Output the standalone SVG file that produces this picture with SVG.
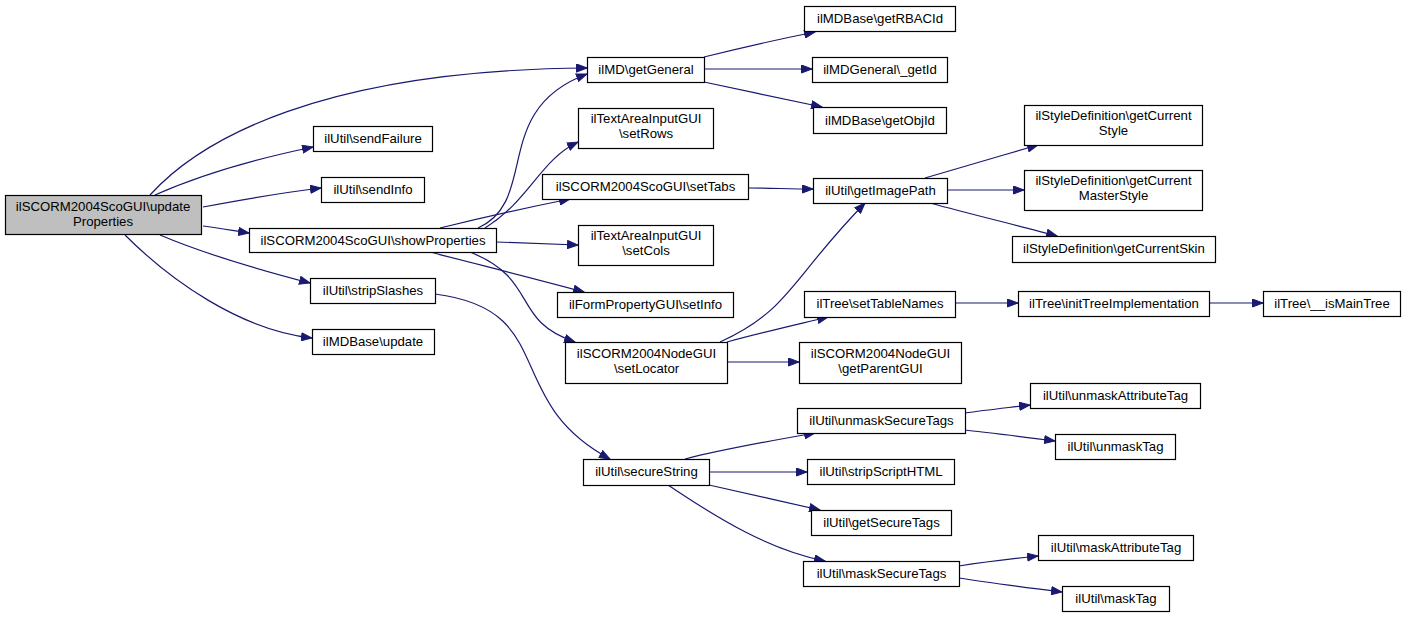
<svg xmlns="http://www.w3.org/2000/svg" width="1405" height="617" viewBox="0 0 1405 617">
<style>
.n rect{fill:#ffffff;stroke:#000000;stroke-width:1.2}
.n.root rect{fill:#bfbfbf}
.n text{font-family:"Liberation Sans",Arial,Helvetica,sans-serif;font-size:13.2px;fill:#000000;text-anchor:middle}
.e path{fill:none;stroke:#191970;stroke-width:1.2;marker-end:url(#ah)}
</style>
<defs>
<marker id="ah" markerUnits="userSpaceOnUse" markerWidth="12" markerHeight="9" refX="11" refY="4.5" orient="auto">
<path d="M0.5,0.5 L11,4.5 L0.5,8.5 z" fill="#191970" stroke="#191970" stroke-width="1"/>
</marker>
</defs>
<rect width="1405" height="617" fill="#ffffff"/>
<g id="edges" class="e">
<path d="M150,195 C200,140 320,70 587,68"/>
<path d="M155,195 C200,175 260,158 313,147"/>
<path d="M203,207 C240,200 280,193 321,188"/>
<path d="M203,226 C220,228 235,231 249,233"/>
<path d="M160,235 C200,252 260,270 310,283"/>
<path d="M125,235 C170,280 240,330 312,338"/>
<path d="M478,228 C540,200 490,110 587,74"/>
<path d="M485,228 C530,200 540,160 578,142"/>
<path d="M440,228 C480,218 530,207 570,199"/>
<path d="M496,242 C530,243 555,244 578,245"/>
<path d="M430,252 C480,265 540,280 584,292"/>
<path d="M470,252 C540,280 510,320 575,342"/>
<path d="M704,57 C740,48 780,39 815,32"/>
<path d="M704,69 C740,69 780,69 812,69"/>
<path d="M704,82 C740,90 790,100 822,107"/>
<path d="M748,188 C770,188 790,189 813,189"/>
<path d="M720,342 C790,310 790,280 865,203"/>
<path d="M727,342 C760,333 795,325 828,317"/>
<path d="M727,362 C750,362 775,362 799,362"/>
<path d="M925,178 C960,168 1000,156 1038,145"/>
<path d="M947,190 C970,190 1000,190 1024,190"/>
<path d="M930,203 C970,214 1020,226 1057,236"/>
<path d="M955,303 C975,303 995,303 1018,303"/>
<path d="M1209,303 C1225,303 1245,303 1263,303"/>
<path d="M435,294 C560,310 500,400 610,459"/>
<path d="M685,459 C720,450 775,440 815,433"/>
<path d="M709,472 C740,472 775,472 807,472"/>
<path d="M709,485 C740,492 785,502 820,510"/>
<path d="M668,485 C720,520 770,550 825,561"/>
<path d="M965,413 C985,410 1005,408 1030,405"/>
<path d="M965,430 C990,433 1025,437 1055,441"/>
<path d="M959,566 C985,562 1010,559 1038,556"/>
<path d="M959,578 C990,583 1030,588 1062,592"/>
</g>
<g id="n1" class="n root"><rect x="5.5" y="195.5" width="196" height="39"/><text x="103" y="211">ilSCORM2004ScoGUI\update</text><text x="103" y="226">Properties</text></g>
<g id="n2" class="n"><rect x="249.5" y="228.5" width="247" height="24"/><text x="373" y="245">ilSCORM2004ScoGUI\showProperties</text></g>
<g id="n3" class="n"><rect x="313.5" y="126.5" width="119" height="25"/><text x="373" y="143">ilUtil\sendFailure</text></g>
<g id="n4" class="n"><rect x="321.5" y="177.5" width="103" height="25"/><text x="373" y="194">ilUtil\sendInfo</text></g>
<g id="n5" class="n"><rect x="310.5" y="278.5" width="125" height="25"/><text x="373" y="295">ilUtil\stripSlashes</text></g>
<g id="n6" class="n"><rect x="312.5" y="329.5" width="122" height="25"/><text x="373" y="346">ilMDBase\update</text></g>
<g id="n7" class="n"><rect x="587.5" y="57.5" width="117" height="25"/><text x="646" y="74">ilMD\getGeneral</text></g>
<g id="n8" class="n"><rect x="578.5" y="108.5" width="135" height="40"/><text x="646" y="123">ilTextAreaInputGUI</text><text x="646" y="138">\setRows</text></g>
<g id="n9" class="n"><rect x="542.5" y="174.5" width="206" height="25"/><text x="645.5" y="191">ilSCORM2004ScoGUI\setTabs</text></g>
<g id="n10" class="n"><rect x="578.5" y="225.5" width="135" height="40"/><text x="646" y="240">ilTextAreaInputGUI</text><text x="646" y="255">\setCols</text></g>
<g id="n11" class="n"><rect x="557.5" y="292.5" width="176" height="25"/><text x="645.5" y="309">ilFormPropertyGUI\setInfo</text></g>
<g id="n12" class="n"><rect x="565.5" y="342.5" width="162" height="41"/><text x="646.5" y="358">ilSCORM2004NodeGUI</text><text x="646.5" y="373">\setLocator</text></g>
<g id="n13" class="n"><rect x="804.5" y="6.5" width="151" height="25"/><text x="880" y="23">ilMDBase\getRBACId</text></g>
<g id="n14" class="n"><rect x="812.5" y="57.5" width="135" height="25"/><text x="880" y="74">ilMDGeneral\_getId</text></g>
<g id="n15" class="n"><rect x="813.5" y="107.5" width="133" height="26"/><text x="880" y="125">ilMDBase\getObjId</text></g>
<g id="n16" class="n"><rect x="813.5" y="178.5" width="134" height="25"/><text x="880.5" y="195">ilUtil\getImagePath</text></g>
<g id="n17" class="n"><rect x="804.5" y="291.5" width="151" height="26"/><text x="880" y="308">ilTree\setTableNames</text></g>
<g id="n18" class="n"><rect x="799.5" y="342.5" width="162" height="41"/><text x="880.5" y="358">ilSCORM2004NodeGUI</text><text x="880.5" y="373">\getParentGUI</text></g>
<g id="n19" class="n"><rect x="1024.5" y="105.5" width="178" height="40"/><text x="1113.5" y="120">ilStyleDefinition\getCurrent</text><text x="1113.5" y="135">Style</text></g>
<g id="n20" class="n"><rect x="1024.5" y="170.5" width="178" height="40"/><text x="1113.5" y="185">ilStyleDefinition\getCurrent</text><text x="1113.5" y="200">MasterStyle</text></g>
<g id="n21" class="n"><rect x="1012.5" y="236.5" width="203" height="26"/><text x="1114" y="253">ilStyleDefinition\getCurrentSkin</text></g>
<g id="n22" class="n"><rect x="1018.5" y="291.5" width="191" height="25"/><text x="1114" y="308">ilTree\initTreeImplementation</text></g>
<g id="n23" class="n"><rect x="1263.5" y="291.5" width="137" height="25"/><text x="1332" y="308">ilTree\__isMainTree</text></g>
<g id="n24" class="n"><rect x="583.5" y="459.5" width="126" height="26"/><text x="646.5" y="476">ilUtil\secureString</text></g>
<g id="n25" class="n"><rect x="797.5" y="408.5" width="168" height="25"/><text x="881.5" y="425">ilUtil\unmaskSecureTags</text></g>
<g id="n26" class="n"><rect x="807.5" y="459.5" width="147" height="25"/><text x="881" y="476">ilUtil\stripScriptHTML</text></g>
<g id="n27" class="n"><rect x="811.5" y="510.5" width="140" height="25"/><text x="881.5" y="527">ilUtil\getSecureTags</text></g>
<g id="n28" class="n"><rect x="803.5" y="561.5" width="156" height="25"/><text x="881.5" y="578">ilUtil\maskSecureTags</text></g>
<g id="n29" class="n"><rect x="1030.5" y="383.5" width="170" height="25"/><text x="1115.5" y="400">ilUtil\unmaskAttributeTag</text></g>
<g id="n30" class="n"><rect x="1055.5" y="434.5" width="120" height="25"/><text x="1115.5" y="451">ilUtil\unmaskTag</text></g>
<g id="n31" class="n"><rect x="1038.5" y="535.5" width="155" height="25"/><text x="1116" y="552">ilUtil\maskAttributeTag</text></g>
<g id="n32" class="n"><rect x="1062.5" y="586.5" width="107" height="25"/><text x="1116" y="603">ilUtil\maskTag</text></g>
</svg>
